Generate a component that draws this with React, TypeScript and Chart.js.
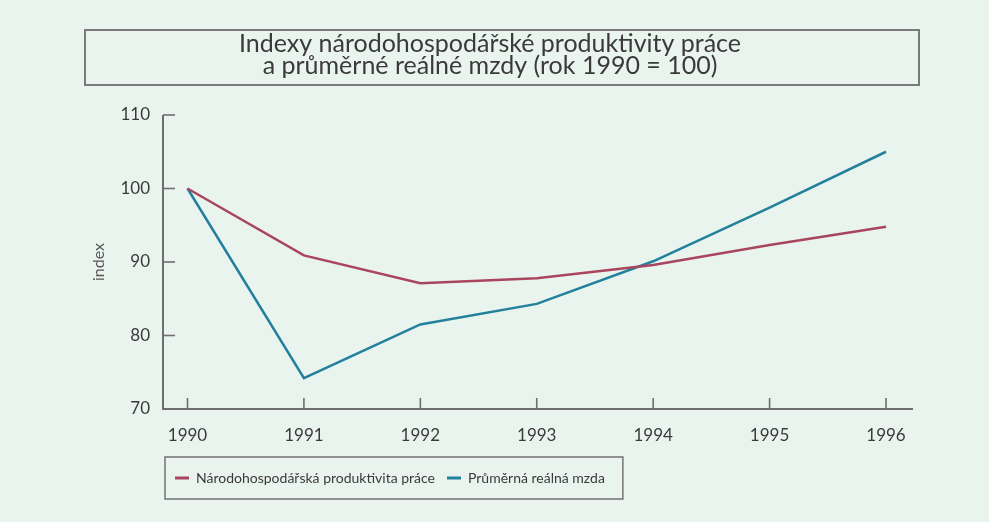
import React, { useEffect, useRef } from 'react';
import { Chart, registerables } from 'chart.js';

Chart.register(...registerables);

const years = [1990, 1991, 1992, 1993, 1994, 1995, 1996];
const productivity = [100, 90.9, 87.1, 87.8, 89.6, 92.3, 94.8];
const realWage = [100, 74.2, 81.5, 84.3, 90.1, 97.4, 105.0];
const yTicks = [70, 80, 90, 100, 110];
const titleLines = [
  'Indexy národohospodářské produktivity práce',
  'a průměrné reálné mzdy (rok 1990 = 100)',
];
const seriesLabels = ['Národohospodářská produktivita práce', 'Průměrná reálná mzda'];
const yAxisTitle = 'index';

const BG = '#eaf4ef';
const AXIS = '#6e6e6e';
const TEXT = '#3a3a3a';
const RED = '#a9455f';
const BLUE = '#23809c';
const FONT = 'Lato';

const decorPlugin = {
  id: 'decor',
  beforeDraw(chart: any) {
    const { ctx, width, height } = chart;
    ctx.save();
    ctx.fillStyle = BG;
    ctx.fillRect(0, 0, width, height);
    ctx.restore();
  },
  beforeDatasetsDraw(chart: any) {
    const { ctx, chartArea, scales } = chart;
    const x = scales.x;
    const y = scales.y;
    ctx.save();
    ctx.strokeStyle = AXIS;
    ctx.lineWidth = 2;
    ctx.lineCap = 'butt';
    ctx.beginPath();
    ctx.moveTo(chartArea.left, chartArea.top);
    ctx.lineTo(chartArea.left, chartArea.bottom);
    ctx.lineTo(chartArea.right + 18, chartArea.bottom);
    ctx.stroke();
    ctx.lineWidth = 1.6;
    yTicks.forEach((v) => {
      const py = y.getPixelForValue(v);
      ctx.beginPath();
      ctx.moveTo(chartArea.left, py);
      ctx.lineTo(chartArea.left + 12, py);
      ctx.stroke();
    });
    years.forEach((v) => {
      const px = x.getPixelForValue(v);
      ctx.beginPath();
      ctx.moveTo(px, chartArea.bottom);
      ctx.lineTo(px, chartArea.bottom - 11);
      ctx.stroke();
    });
    ctx.restore();
  },
  afterDraw(chart: any) {
    const { ctx } = chart;
    ctx.save();
    ctx.strokeStyle = '#7a7a7a';
    ctx.lineWidth = 2;
    const tb = chart.titleBlock;
    if (tb) {
      ctx.strokeRect(tb.left, tb.top, 834, 55);
    }
    const lg = chart.legend;
    if (lg && lg.legendHitBoxes && lg.legendHitBoxes.length) {
      const hb = lg.legendHitBoxes;
      const first = hb[0];
      const last = hb[hb.length - 1];
      const cy = first.top + first.height / 2;
      const left = first.left - 10;
      const right = last.left + last.width + 18;
      ctx.lineWidth = 1.6;
      ctx.strokeRect(left, cy - 21, right - left, 42);
    }
    ctx.restore();
  },
};

export default function App() {
  const ref = useRef<HTMLCanvasElement | null>(null);

  useEffect(() => {
    if (!ref.current) return;
    const chart = new Chart(ref.current, {
      type: 'line',
      data: {
        datasets: [
          {
            label: seriesLabels[0],
            data: years.map((yr, i) => ({ x: yr, y: productivity[i] })),
            borderColor: RED,
            backgroundColor: RED,
            borderWidth: 2.5,
            pointRadius: 0,
            tension: 0,
          },
          {
            label: seriesLabels[1],
            data: years.map((yr, i) => ({ x: yr, y: realWage[i] })),
            borderColor: BLUE,
            backgroundColor: BLUE,
            borderWidth: 2.5,
            pointRadius: 0,
            tension: 0,
          },
        ],
      },
      options: {
        responsive: false,
        animation: false,
        devicePixelRatio: 1,
        layout: { padding: { left: 85, right: 94, top: 30, bottom: 27 } },
        scales: {
          x: {
            type: 'linear',
            min: 1989.7895,
            max: 1996.0773,
            grid: { display: false, drawTicks: false },
            border: { display: false },
            afterBuildTicks: (axis: any) => {
              axis.ticks = years.map((v) => ({ value: v }));
            },
            afterFit: (axis: any) => {
              axis.height = 50;
            },
            ticks: {
              padding: 16,
              maxRotation: 0,
              autoSkip: false,
              color: TEXT,
              font: { family: FONT, size: 17 },
              callback: (v: any) => String(v),
            },
          },
          y: {
            min: 70,
            max: 110,
            grid: { display: false, drawTicks: false },
            border: { display: false },
            afterBuildTicks: (axis: any) => {
              axis.ticks = yTicks.map((v) => ({ value: v }));
            },
            afterFit: (axis: any) => {
              axis.width = 78;
            },
            ticks: {
              padding: 13,
              color: TEXT,
              font: { family: FONT, size: 17 },
            },
            title: {
              display: true,
              text: yAxisTitle,
              color: '#555',
              font: { family: FONT, size: 16 },
              padding: { top: 4, bottom: 0 },
            },
          },
        },
        plugins: {
          title: {
            display: true,
            text: titleLines,
            color: TEXT,
            font: { family: FONT, size: 25, weight: 'normal', lineHeight: 0.86 },
            padding: { top: 3.25, bottom: 38.75 },
          },
          legend: {
            display: true,
            position: 'bottom',
            align: 'start',
            fullSize: false,
            labels: {
              color: TEXT,
              font: { family: FONT, size: 14 },
              boxWidth: 14,
              boxHeight: 3,
              padding: 12,
              generateLabels: (c: any) =>
                (Chart.defaults.plugins.legend.labels.generateLabels as any)(c).map((l: any) => ({
                  ...l,
                  lineWidth: 0,
                })),
            },
          },
          tooltip: { enabled: false },
        },
      },
      plugins: [decorPlugin],
    } as any);
    return () => chart.destroy();
  }, []);

  return (
    <div
      style={{
        position: 'fixed',
        left: 0,
        top: 0,
        width: 989,
        height: 522,
        background: BG,
      }}
    >
      <canvas ref={ref} width={989} height={522} />
    </div>
  );
}
